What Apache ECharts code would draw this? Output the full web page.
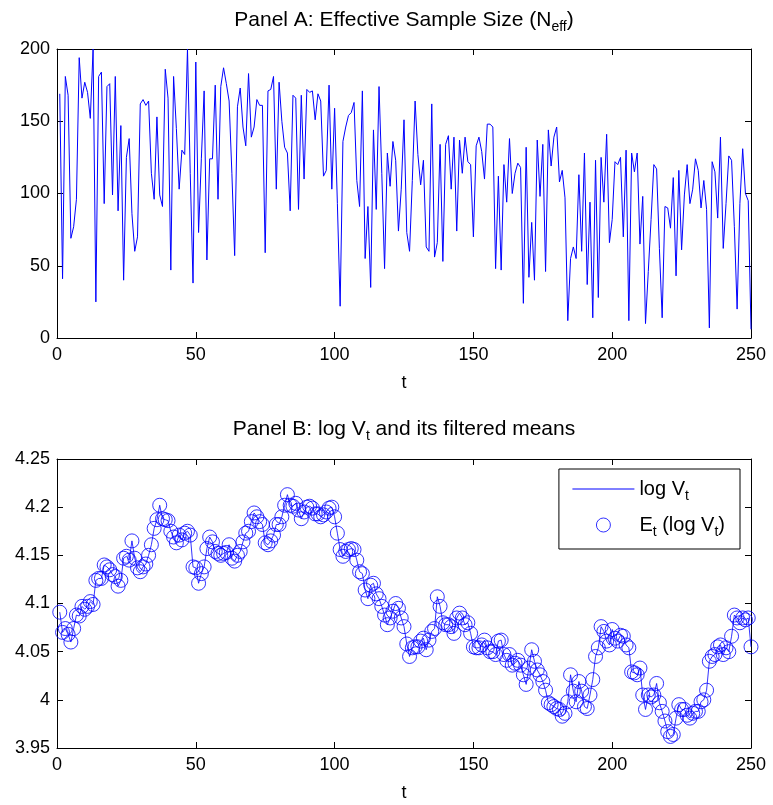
<!DOCTYPE html>
<html>
<head>
<meta charset="utf-8">
<script src="https://cdn.jsdelivr.net/npm/echarts@6/dist/echarts.min.js"></script>
<style>
  html, body { margin: 0; background: #fff; }
  #chart { width: 773px; height: 805px; }
</style>
</head>
<body>
<div id="chart"></div>
<script>
// Panel A: effective sample size, t = 1..250
const neff = [
  169,41,181,168,69,77,96,194,166,177,170,152,200,25,181,184,93,174,176,99,181,88,147,40,125,138,86,60,70,162,165,161,164,114,96,153,99,91,186,166,47,181,
  145,103,130,127,200,114,38,191,73,124,171,54,124,124,175,96,174,187,176,164,114,57,160,173,146,133,183,139,146,165,161,161,59,171,172,181,103,177,150,132,128,
  88,168,166,89,168,110,172,170,171,151,169,164,112,116,175,103,159,93,22,136,146,154,156,163,109,91,171,55,91,35,144,89,174,114,48,128,105,136,123,74,103,151,
  73,60,109,164,127,106,123,63,60,162,56,66,134,53,134,140,103,139,74,137,114,139,122,120,70,133,139,129,110,148,148,146,48,112,47,120,94,138,100,114,121,118,
  24,132,42,80,40,137,98,134,46,144,119,139,146,108,116,97,12,55,63,55,113,60,128,37,94,14,123,28,125,94,141,66,82,122,120,125,70,130,12,128,115,
  128,65,98,10,46,82,120,117,62,14,91,90,76,111,43,116,61,99,120,93,103,124,116,90,109,89,7,122,115,83,139,62,93,126,123,77,20,93,131,100,95,6
];

// Panel B: log V_t (line) and its filtered means (circles), t = 1..250
const logV = [
  4.091,4.070,4.074,4.068,4.060,4.074,4.088,4.087,4.097,4.094,4.097,4.102,4.099,4.124,4.126,4.126,4.140,4.138,4.135,4.130,
  4.128,4.118,4.124,4.147,4.149,4.145,4.165,4.147,4.137,4.133,4.138,4.141,4.150,4.161,4.178,4.187,4.202,4.188,4.187,4.186,
  4.175,4.169,
  4.163,4.171,4.166,4.173,4.175,4.171,4.138,4.137,4.121,4.131,4.138,4.157,4.169,4.164,4.154,4.152,4.150,4.152,
  4.153,4.161,4.147,4.144,4.150,4.154,4.164,4.173,4.175,4.185,4.194,4.190,4.185,4.182,4.163,4.161,4.165,4.171,4.182,4.182,
  4.190,4.202,4.213,
  4.202,4.201,4.204,4.197,4.188,4.195,4.200,4.201,4.199,4.193,4.193,4.190,4.192,4.195,4.199,4.200,4.190,4.173,4.156,4.149,
  4.154,4.156,4.157,4.156,4.145,4.133,4.131,4.114,4.105,4.119,4.121,4.110,4.105,4.097,4.088,4.078,4.085,4.092,4.100,4.095,
  4.085,4.076,
  4.058,4.045,4.054,4.055,4.055,4.061,4.064,4.052,4.062,4.071,4.074,4.107,4.097,4.080,4.078,4.078,4.076,4.069,4.085,4.090,
  4.085,4.078,4.080,4.069,4.055,4.054,4.054,4.057,4.062,4.054,4.050,4.050,4.047,4.061,4.062,4.047,4.041,4.047,4.036,4.038,
  4.041,4.036,
  4.026,4.016,4.033,4.052,4.040,4.031,4.026,4.019,4.010,3.997,3.995,3.993,3.991,3.990,3.983,3.986,3.998,4.026,4.009,3.998,
  4.019,4.009,3.993,3.991,4.005,4.021,4.045,4.054,4.076,4.071,4.061,4.057,4.073,4.064,4.061,4.067,4.066,4.057,4.054,4.029,
  4.028,
  4.026,4.033,4.005,3.990,4.005,4.003,4.005,4.017,3.997,3.988,3.978,3.967,3.962,3.964,3.981,3.995,3.990,3.990,3.984,3.981,
  3.986,3.988,3.988,3.998,4.000,4.010,4.040,4.045,4.047,4.055,4.057,4.047,4.054,4.050,4.066,4.088,4.085,4.080,4.085,4.083,
  4.085,4.055
];
const filteredMean = logV;

const font = 'Liberation Sans, Arial, Helvetica, sans-serif';
const blue = '#0000ff';

function pairs(arr) {
  return arr.map(function (v, i) { return [i + 1, v]; });
}

function xAxis(grid, pos) {
  const bottom = pos === 'bottom';
  return {
    gridIndex: grid, type: 'value', position: pos,
    min: 0, max: 250, interval: 50,
    axisLine: { onZero: false, lineStyle: { color: '#000', width: 1 } },
    axisTick: { inside: true, length: 6, lineStyle: { color: '#000' } },
    axisLabel: { show: bottom, color: '#000', fontSize: 18, fontFamily: font, margin: 8 },
    splitLine: { show: false },
    name: bottom ? 't' : '', nameLocation: 'middle', nameGap: 36,
    nameTextStyle: { color: '#000', fontSize: 18, fontFamily: font }
  };
}

function yAxis(grid, pos, min, max, interval) {
  const left = pos === 'left';
  return {
    gridIndex: grid, type: 'value', position: pos,
    min: min, max: max, interval: interval,
    axisLine: { onZero: false, lineStyle: { color: '#000', width: 1 } },
    axisTick: { inside: true, length: 6, lineStyle: { color: '#000' } },
    axisLabel: {
      show: left, color: '#000', fontSize: 18, fontFamily: font, margin: 7,
      formatter: function (v) { return String(+v.toFixed(2)); }
    },
    splitLine: { show: false }
  };
}

const subStyle = { fontSize: 14, fontFamily: font, padding: [14, 0, 0, 0] };

const option = {
  backgroundColor: '#fff',
  animation: false,
  textStyle: { fontFamily: font },
  grid: [
    { left: 57, right: 22, top: 49, height: 289 },
    { left: 57, right: 22, top: 459, height: 289 }
  ],
  xAxis: [xAxis(0, 'bottom'), xAxis(0, 'top'), xAxis(1, 'bottom'), xAxis(1, 'top')],
  yAxis: [
    yAxis(0, 'left', 0, 200, 50), yAxis(0, 'right', 0, 200, 50),
    yAxis(1, 'left', 3.95, 4.25, 0.05), yAxis(1, 'right', 3.95, 4.25, 0.05)
  ],
  graphic: [
    {
      type: 'text', x: 404, y: 20,
      style: {
        text: 'Panel A: Effective Sample Size (N{s|eff})',
        rich: { s: subStyle },
        fontSize: 21, fontFamily: font, fill: '#000',
        align: 'center', verticalAlign: 'middle'
      }
    },
    {
      type: 'text', x: 404, y: 429,
      style: {
        text: 'Panel B: log V{s|t} and its filtered means',
        rich: { s: subStyle },
        fontSize: 21, fontFamily: font, fill: '#000',
        align: 'center', verticalAlign: 'middle'
      }
    }
  ],
  legend: {
    data: [{ name: 'logV', itemStyle: { opacity: 0 } }, { name: 'Et' }],
    orient: 'vertical',
    right: 33, top: 469,
    backgroundColor: '#fff',
    borderColor: '#000', borderWidth: 1, borderRadius: 0,
    padding: [10, 15, 10, 13],
    itemGap: 12,
    itemWidth: 62, itemHeight: 14,
    itemStyle: { borderWidth: 1 },
    lineStyle: { width: 1 },
    textStyle: {
      color: '#000', fontSize: 20, fontFamily: font,
      rich: { s: subStyle }
    },
    formatter: function (name) {
      return name === 'logV' ? 'log V{s|t}' : 'E{s|t} (log V{s|t})';
    }
  },
  series: [
    {
      name: 'neff', type: 'line', xAxisIndex: 0, yAxisIndex: 0,
      data: pairs(neff), showSymbol: false, symbol: 'none',
      lineStyle: { color: blue, width: 1 }
    },
    {
      name: 'logV', type: 'line', xAxisIndex: 2, yAxisIndex: 2,
      data: pairs(logV), showSymbol: false, symbol: 'none',
      itemStyle: { color: blue },
      lineStyle: { color: blue, width: 0.8 }
    },
    {
      name: 'Et', type: 'scatter', xAxisIndex: 2, yAxisIndex: 2,
      data: pairs(filteredMean), symbol: 'circle', symbolSize: 14,
      itemStyle: { color: 'rgba(0,0,0,0)', borderColor: blue, borderWidth: 1 }
    }
  ]
};

const myChart = echarts.init(document.getElementById('chart'));
myChart.setOption(option);
</script>
</body>
</html>
